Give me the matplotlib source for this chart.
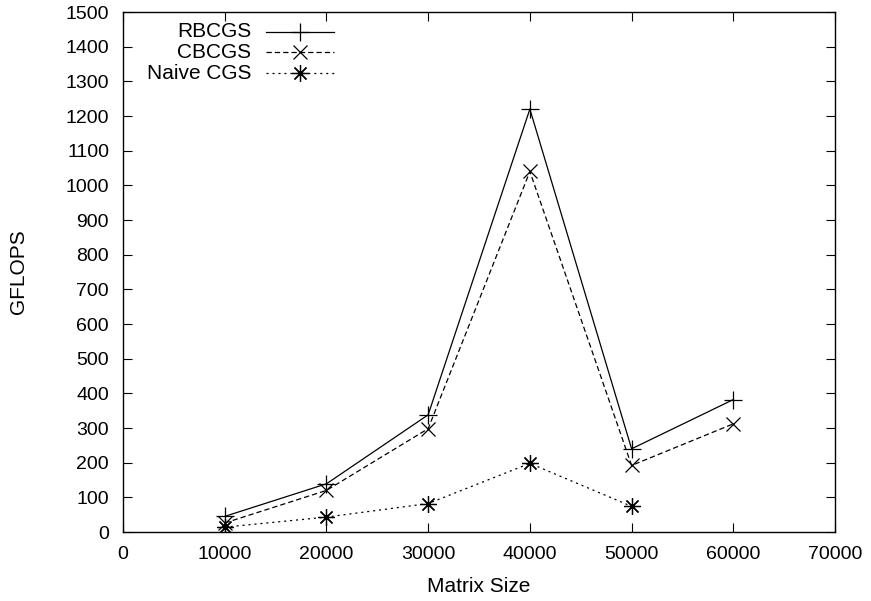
import matplotlib
matplotlib.use('Agg')
import matplotlib.pyplot as plt
from matplotlib.lines import Line2D

plt.rcParams['font.family'] = ['Liberation Sans', 'DejaVu Sans']
plt.rcParams['lines.scale_dashes'] = False

sizes = [10000, 20000, 30000, 40000, 50000, 60000]
rbcgs = [45, 139, 338, 1220, 240, 382]
cbcgs = [26, 120, 298, 1040, 192, 312]
naive_sizes = [10000, 20000, 30000, 40000, 50000]
naive = [14, 43, 82, 198, 74]

labels = ['RBCGS', 'CBCGS', 'Naive CGS']

fig = plt.figure(figsize=(8.71, 6.01), dpi=100)
ax = fig.add_axes([0.1412, 0.1148, 0.9587 - 0.1412, 0.980 - 0.1148])

lw = 0.9
styles = [
    dict(marker='+', markersize=13, linestyle='-'),
    dict(marker='x', markersize=10, linestyle=(0, (3.8, 2.2))),
    dict(marker=(8, 2, 0), markersize=12, linestyle=(0, (1.5, 2.8))),
]
series = [(sizes, rbcgs), (sizes, cbcgs), (naive_sizes, naive)]

for (xs, ys), st in zip(series, styles):
    ax.plot(xs, ys, color='black', linewidth=lw, markeredgewidth=lw, **st)

# gnuplot-style legend: right-aligned text, sample to the right
row_y = [0.962, 0.923, 0.882]
for lab, st, yy in zip(labels, styles, row_y):
    ax.text(0.1805, yy, lab, transform=ax.transAxes, ha='right', va='center', fontsize=15)
    ax.add_line(Line2D([0.2005, 0.2965], [yy, yy], transform=ax.transAxes, color='black',
                       linewidth=lw, linestyle=st['linestyle']))
    ax.add_line(Line2D([0.2485], [yy], transform=ax.transAxes, color='black', linestyle='none',
                       marker=st['marker'], markersize=st['markersize'], markeredgewidth=lw))

ax.set_xlim(0, 70000)
ax.set_ylim(0, 1500)
ax.set_xticks(range(0, 70001, 10000))
ax.set_yticks(range(0, 1501, 100))
ax.tick_params(direction='in', length=6.5, width=0.8, top=True, right=True, labelsize=14, pad=10)
for s in ax.spines.values():
    s.set_linewidth(1.0)

ax.set_xlabel('Matrix Size', fontsize=15, labelpad=10)
ax.set_ylabel('GFLOPS', fontsize=15, labelpad=27)

plt.savefig('out.png', dpi=100)
